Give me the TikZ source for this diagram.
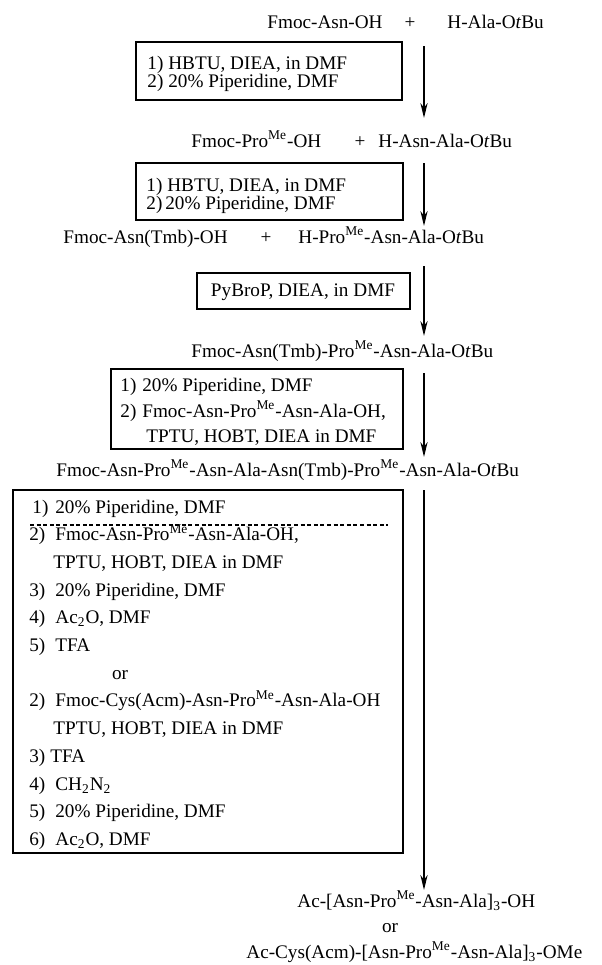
\documentclass[tikz,border=0pt]{standalone}
\usepackage{fontspec}
\setmainfont{Liberation Serif}
\usetikzlibrary{arrows.meta}
\newcommand{\Me}{\textsuperscript{Me}}
\newcommand{\OtBu}{O\textit{t}Bu}
\newcommand{\itm}[2][13pt]{\makebox[#1][l]{#2)}}
\begin{document}
\begin{tikzpicture}[x=0.5pt,y=-0.5pt,>={Stealth[length=7.5pt,width=3.6pt]},
	txt/.style={inner sep=0pt,anchor=base west,font=\fontsize{9.6}{11}\selectfont},
	mid/.style={txt,anchor=base},
	stepbox/.style={draw,line width=1pt},
	flow/.style={->,line width=0.75pt}]
	\useasboundingbox (0,0) rectangle (601,965);
	% arrows, all on one vertical
	\foreach \i/\s/\e in {1/46/118,2/163/226,3/266/336,4/373/457,5/490/890}{
		\coordinate (from\i) at (424,\s);
		\coordinate (to\i) at (424,\e);
		\draw[flow] (from\i) -- (to\i);
	}
	% step 1
	\node[txt] (asnOH) at (267,28) {Fmoc-Asn-OH};
	\node[mid] (plusA) at (410,28) {+};
	\node[txt] (alaOtBu) at (447,28) {H-Ala-\OtBu};
	\draw[stepbox] (136,42) rectangle (402,100);
	\node[txt] (s1a) at (147,69) {\itm[10.5pt]{1}HBTU, DIEA, in DMF};
	\node[txt] (s1b) at (147,87) {\itm[10.5pt]{2}20\% Piperidine, DMF};
	% step 2
	\node[txt] (proOH) at (191,147) {Fmoc-Pro\Me-OH};
	\node[mid] (plusB) at (360,147) {+};
	\node[txt] (asnAla) at (378,147) {H-Asn-Ala-\OtBu};
	\draw[stepbox] (136,163) rectangle (403,220);
	\node[txt] (s2a) at (146,191) {\itm[10.5pt]{1}HBTU, DIEA, in DMF};
	\node[txt] (s2b) at (146,209) {\itm[9.5pt]{2}20\% Piperidine, DMF};
	% step 3
	\node[txt] (tmbOH) at (63,243) {Fmoc-Asn(Tmb)-OH};
	\node[mid] (plusC) at (266,243) {+};
	\node[txt] (proAsn) at (298,243) {H-Pro\Me-Asn-Ala-\OtBu};
	\draw[stepbox] (197,273) rectangle (410,309);
	\node[mid] (s3a) at (303,296) {PyBroP, DIEA, in DMF};
	% step 4
	\node[txt] (tetra) at (191,357) {Fmoc-Asn(Tmb)-Pro\Me-Asn-Ala-\OtBu};
	\draw[stepbox] (111,369) rectangle (403,449);
	\node[txt] (s4a) at (120,391) {\itm[11pt]{1}20\% Piperidine, DMF};
	\node[txt] (s4b) at (120,417) {\itm[11pt]{2}Fmoc-Asn-Pro\Me-Asn-Ala-OH,};
	\node[txt] (s4c) at (146,442) {TPTU, HOBT, DIEA in DMF};
	% step 5
	\node[txt] (octa) at (56,476) {Fmoc-Asn-Pro\Me-Asn-Ala-Asn(Tmb)-Pro\Me-Asn-Ala-\OtBu};
	\draw[stepbox] (13,490) rectangle (403,853);
	\node[txt] (s5a) at (32,513) {\itm[11.5pt]{1}20\% Piperidine, DMF};
	\coordinate (dashL) at (30,525);
	\coordinate (dashR) at (388,525);
	\draw[line width=0.75pt,dash pattern=on 2pt off 1.3pt] (dashL) -- (dashR);
	\node[txt] (s5b) at (29,540.7) {\itm{2}Fmoc-Asn-Pro\Me-Asn-Ala-OH,};
	\node[txt] (s5c) at (53,568.4) {TPTU, HOBT, DIEA in DMF};
	\node[txt] (s5d) at (29,596.1) {\itm{3}20\% Piperidine, DMF};
	\node[txt] (s5e) at (29,623.8) {\itm{4}Ac\textsubscript{2}O, DMF};
	\node[txt] (s5f) at (29,651.5) {\itm{5}TFA};
	\node[mid] (s5or) at (120,679.2) {or};
	\node[txt] (s5g) at (29,706.9) {\itm{2}Fmoc-Cys(Acm)-Asn-Pro\Me-Asn-Ala-OH};
	\node[txt] (s5h) at (53,734.6) {TPTU, HOBT, DIEA in DMF};
	\node[txt] (s5i) at (29,762.3) {\itm[10.5pt]{3}TFA};
	\node[txt] (s5j) at (29,790) {\itm{4}CH\textsubscript{2}N\textsubscript{2}};
	\node[txt] (s5k) at (29,817.7) {\itm{5}20\% Piperidine, DMF};
	\node[txt] (s5l) at (29,845.4) {\itm{6}Ac\textsubscript{2}O, DMF};
	% products
	\node[txt] (prodA) at (297,907) {Ac-[Asn-Pro\Me-Asn-Ala]\textsubscript{3}-OH};
	\node[mid] (prodOr) at (390,932) {or};
	\node[txt] (prodB) at (246,958) {Ac-Cys(Acm)-[Asn-Pro\Me-Asn-Ala]\textsubscript{3}-OMe};
\end{tikzpicture}
\end{document}
